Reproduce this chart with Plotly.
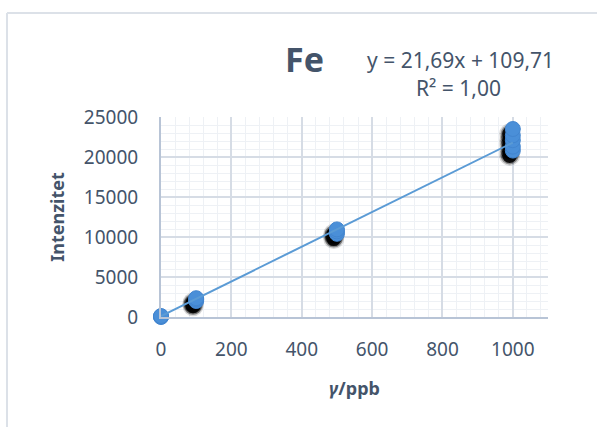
import plotly.graph_objects as go

# Data
conc = [0, 0, 0, 100, 100, 100, 500, 500, 500, 1000, 1000, 1000, 1000, 1000]
intensity = [0, 60, 120, 2000, 2200, 2350, 10400, 10700, 10950, 20800, 21300, 22100, 22700, 23500]
slope = 21.69
intercept = 109.71
fit_x = [0, 1000]
fit_y = [slope * v + intercept for v in fit_x]
x_ticks = [0, 200, 400, 600, 800, 1000]
y_ticks = [0, 5000, 10000, 15000, 20000, 25000]
title_text = "Fe"
eq_line1 = "y = 21,69x + 109,71"
eq_line2 = "R² = 1,00"

TXT = "#44546A"
FONT = "Noto Sans"

fig = go.Figure()

# invisible anchor trace on the main (visible) axes
fig.add_trace(go.Scatter(x=fit_x, y=fit_y, mode="lines", line=dict(width=0, color="rgba(0,0,0,0)"),
                         hoverinfo="skip", showlegend=False))

# Shadows (on shifted overlay axes so they sit slightly lower-left)
for sz, op in [(21, 0.15), (18, 0.35), (15, 0.9)]:
    fig.add_trace(go.Scatter(x=conc, y=intensity, mode="markers", cliponaxis=False,
                             marker=dict(color="black", size=sz, opacity=op, line=dict(width=0)),
                             xaxis="x2", yaxis="y2", hoverinfo="skip", showlegend=False))

fig.add_trace(go.Scatter(x=conc, y=intensity, mode="markers", cliponaxis=False,
                         marker=dict(color="#4A8FD8", size=15, line=dict(color="#4285CF", width=1)),
                         xaxis="x3", yaxis="y3", showlegend=False))
fig.add_trace(go.Scatter(x=fit_x, y=fit_y, mode="lines",
                         line=dict(color="#5B9BD5", width=2),
                         xaxis="x3", yaxis="y3", showlegend=False))

fig.update_layout(
    width=597, height=427,
    margin=dict(l=161, r=49, t=117, b=110),
    paper_bgcolor="white", plot_bgcolor="white",
    font=dict(family=FONT, color=TXT, size=19),
    xaxis=dict(range=[0, 1100], tickvals=x_ticks, showgrid=True, gridcolor="#D6DCE5", gridwidth=1.5,
               minor=dict(dtick=40, showgrid=True, gridcolor="#EEF1F5", gridwidth=1),
               showline=True, linecolor="#B8C4D6", linewidth=2, zeroline=False, automargin=False,
               ticks="", ticklabelstandoff=14, tickfont=dict(size=19, color=TXT),
               title=dict(text="<b><i>γ</i>/ppb</b>", font=dict(size=18, color=TXT), standoff=22)),
    yaxis=dict(range=[0, 25000], tickvals=y_ticks, tickformat="d", showgrid=True, gridcolor="#D6DCE5",
               gridwidth=1.5, minor=dict(dtick=1000, showgrid=True, gridcolor="#EEF1F5", gridwidth=1),
               showline=True, linecolor="#B8C4D6", linewidth=2, zeroline=False, automargin=False,
               ticks="", ticklabelstandoff=17, tickfont=dict(size=19, color=TXT),
               title=dict(text="<b>Intenzitet</b>", font=dict(size=18, color=TXT), standoff=15)),
    xaxis2=dict(range=[9, 1109], overlaying="x", visible=False),
    yaxis2=dict(range=[600, 25600], overlaying="y", visible=False),
    xaxis3=dict(range=[0, 1100], overlaying="x", visible=False),
    yaxis3=dict(range=[0, 25000], overlaying="y", visible=False),
    shapes=[
        dict(type="line", xref="paper", yref="paper", x0=-0.398, x1=-0.398, y0=1.52, y1=-0.6,
             line=dict(color="#DCE1E8", width=2)),
        dict(type="line", xref="paper", yref="paper", x0=-0.398, x1=1.2, y0=1.52, y1=1.52,
             line=dict(color="#DCE1E8", width=2)),
    ],
    annotations=[
        dict(text="<b>" + title_text + "</b>", xref="paper", yref="paper", x=(304 - 161) / 387,
             y=1 + (117 - 59) / 200, showarrow=False, font=dict(size=34, color=TXT),
             xanchor="center", yanchor="middle"),
        dict(text=eq_line1, xref="paper", yref="paper", x=(460 - 161) / 387,
             y=1 + (117 - 60) / 200, showarrow=False, font=dict(size=21, color=TXT),
             xanchor="center", yanchor="middle"),
        dict(text=eq_line2, xref="paper", yref="paper", x=(458 - 161) / 387,
             y=1 + (117 - 88) / 200, showarrow=False, font=dict(size=21, color=TXT),
             xanchor="center", yanchor="middle"),
    ],
)

fig.write_html("out.html", config={"displayModeBar": False},
               post_script="document.body.style.margin='0px';")
